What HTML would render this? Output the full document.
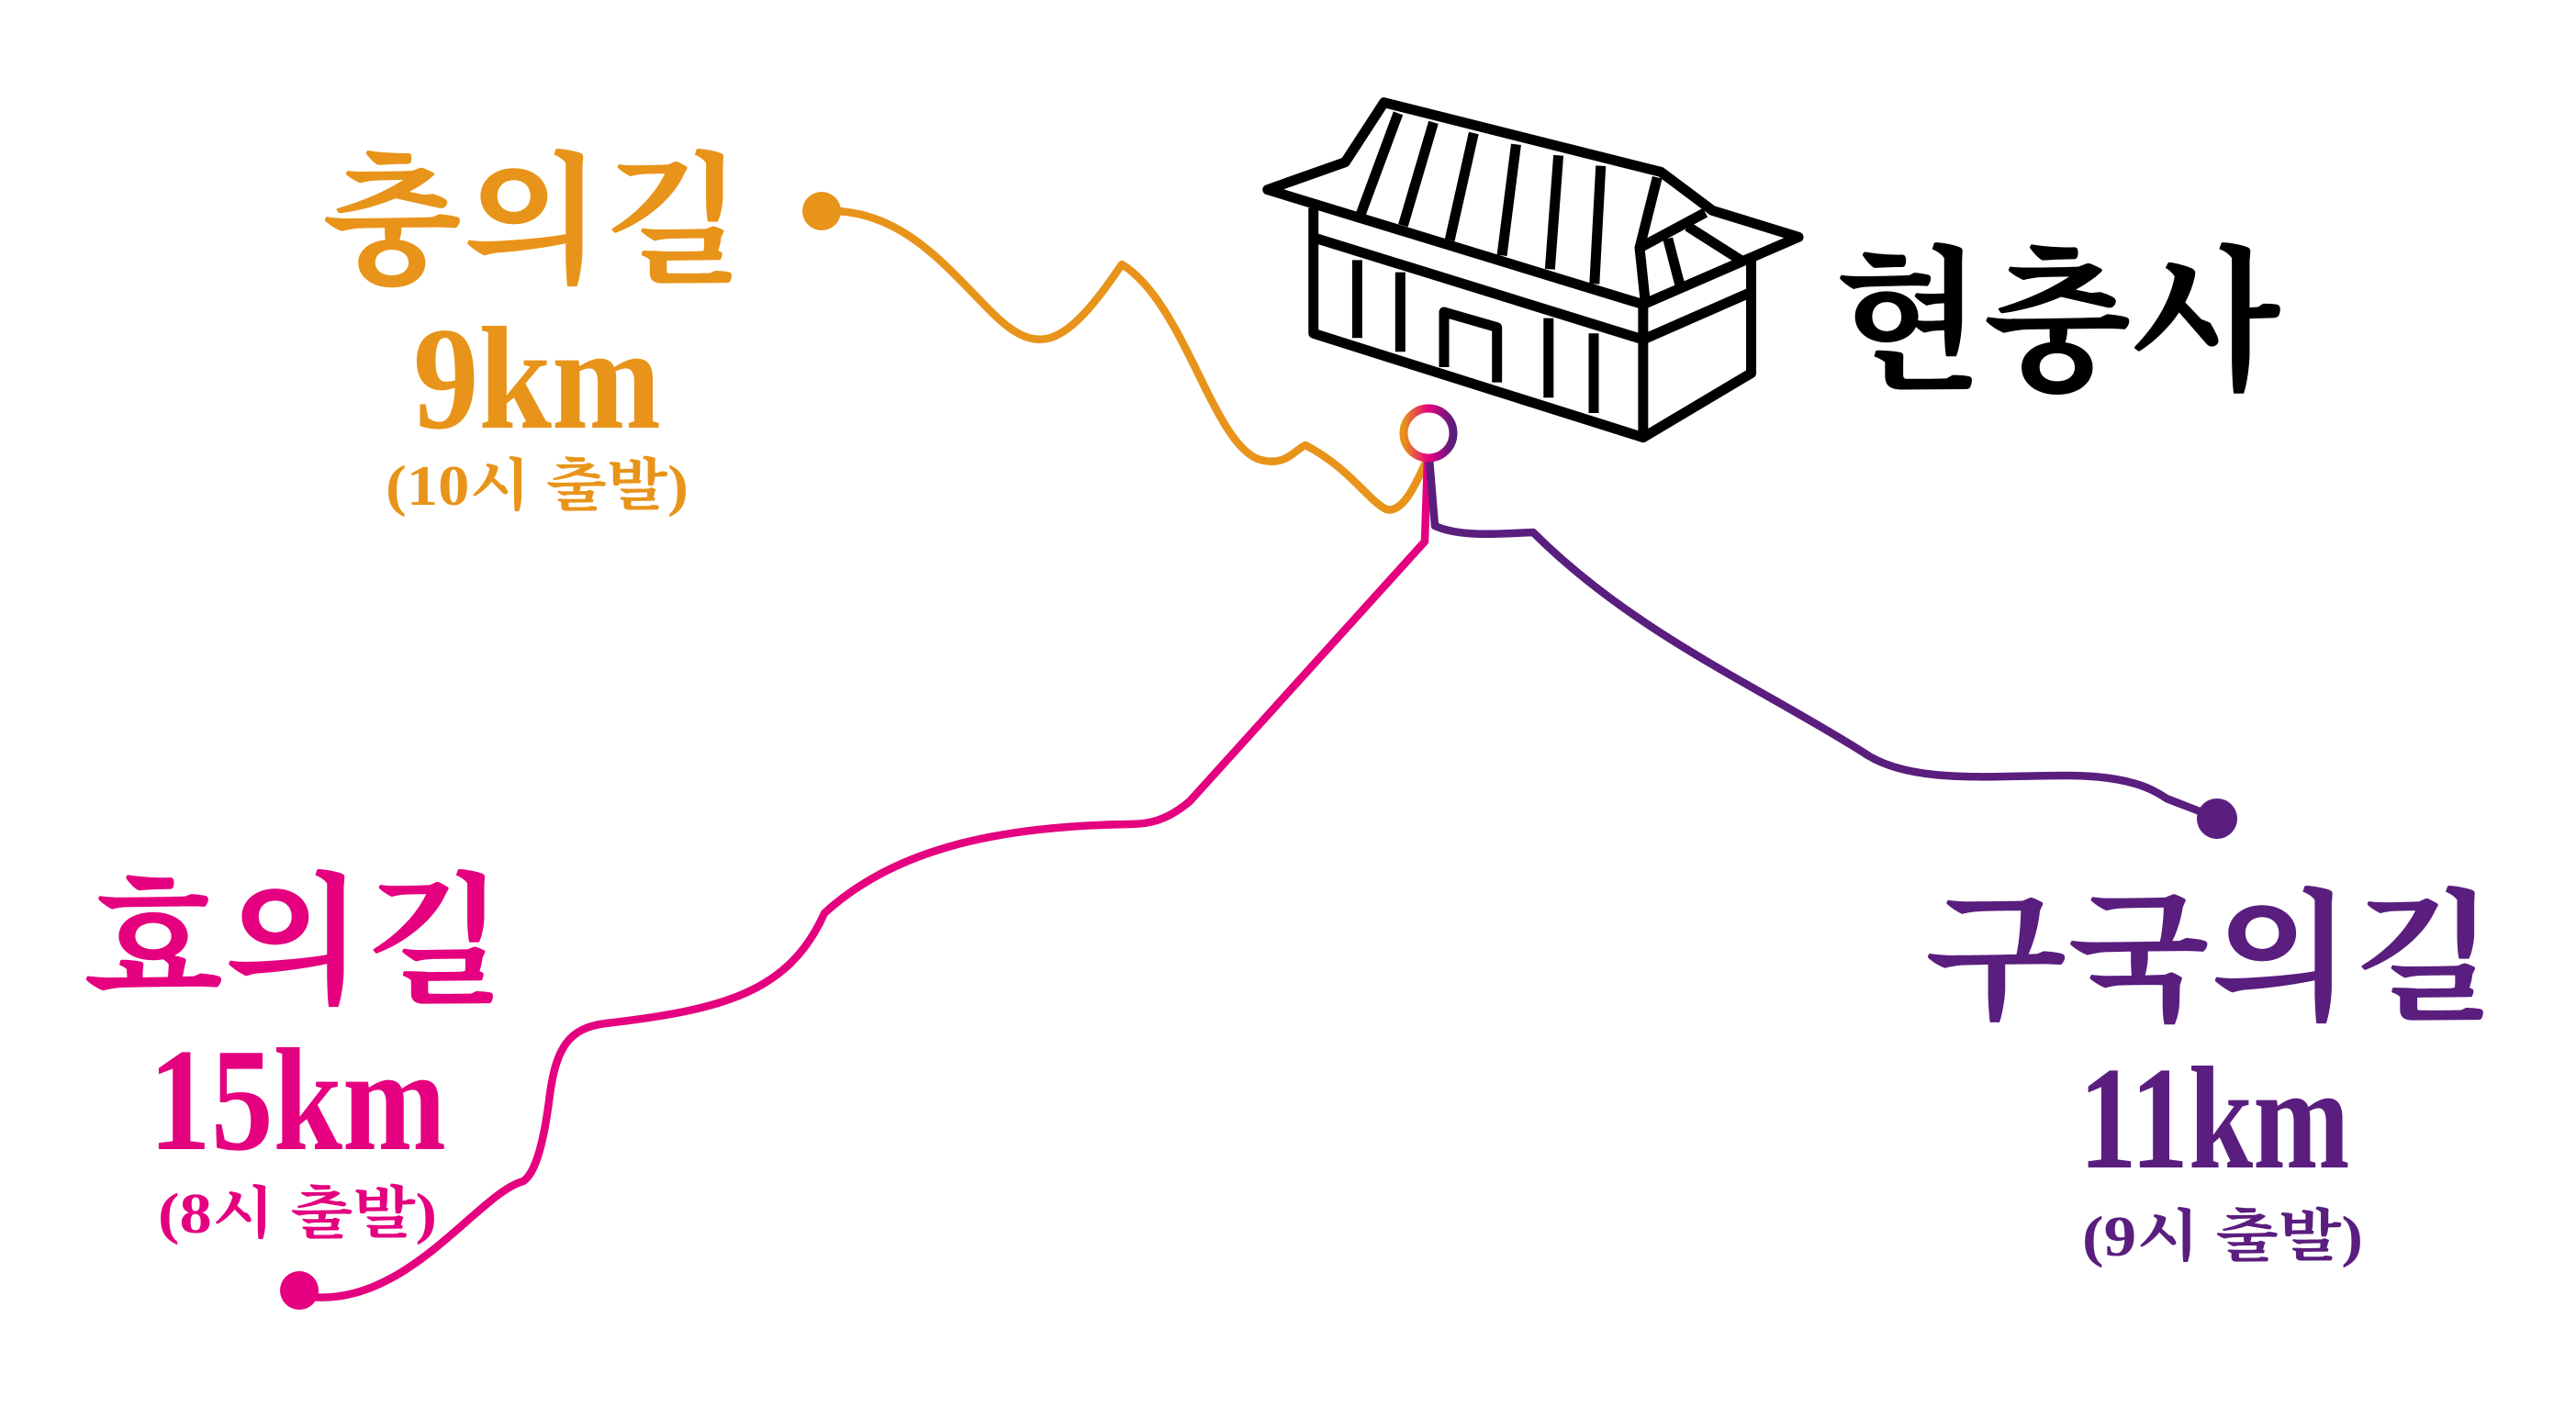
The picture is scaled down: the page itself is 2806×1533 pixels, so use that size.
<!DOCTYPE html>
<html><head><meta charset="utf-8"><style>
html,body{margin:0;padding:0;background:#fff;width:2806px;height:1533px;overflow:hidden}
svg{display:block}
text{font-family:"Liberation Serif","Noto Serif CJK SC",serif;font-weight:bold}
</style></head><body>
<svg width="2806" height="1533" viewBox="0 0 2806 1533" xmlns="http://www.w3.org/2000/svg">
<defs>
<linearGradient id="g" x1="0" x2="1" y1="0" y2="0">
<stop offset="0" stop-color="#E8941A"/><stop offset="0.5" stop-color="#E4007F"/><stop offset="1" stop-color="#5A1E7E"/>
</linearGradient>
</defs>
<!-- house -->
<g transform="translate(1300,80) scale(0.769,0.3333)" fill="none" stroke="#000" stroke-linejoin="round">
<path vector-effect="non-scaling-stroke" stroke-width="11" d="M637,755 L105,380 L215,290 L270,95 L662,322 L735,448 L857,535 L637,755"/>
<path vector-effect="non-scaling-stroke" stroke-width="11" d="M170,440 L170,850 L637,1190 L790,980 L790,610"/>
<path vector-effect="non-scaling-stroke" stroke-width="11" d="M637,755 L637,1190 M175,540 L637,870 L790,715"/>
<path vector-effect="non-scaling-stroke" stroke-width="11" d="M290,130 L237,460 M340,160 L297,497 M397,195 L363,545 M457,232 L437,595 M517,268 L505,640 M577,302 L568,688 M657,340 L632,570 L640,745 M632,570 L725,455 M700,500 L775,610 M672,540 L690,700"/>
<path vector-effect="non-scaling-stroke" stroke-width="11" d="M232,610 L232,865 M293,650 L293,910 M503,800 L503,1060 M567,850 L567,1110 M355,960 L355,780 L430,830 L430,1010"/>
</g>
<!-- routes -->
<g fill="none" stroke-width="8.5" stroke-linecap="round" stroke-linejoin="round">
<path stroke="#E8941A" d="M895,230 C980,225 1030,290 1080,340 C1130,390 1160,380 1222,288 C1290,330 1320,480 1370,500 C1400,510 1410,490 1422,485 C1470,510 1490,545 1510,555 C1530,560 1545,520 1555,500"/>
<path stroke="#E4007F" d="M1555,500 L1552,590 L1296,873 C1270,895 1250,898 1230,898 C1100,900 980,920 898,995 C860,1080 790,1100 660,1115 C620,1120 605,1140 598,1200 C590,1260 580,1280 570,1287 C520,1300 440,1430 330,1412"/>
<path stroke="#5A1E7E" d="M1557,500 L1563,573 C1590,585 1630,582 1670,580 C1780,690 1920,750 2030,820 C2080,855 2170,845 2250,845 C2320,845 2345,860 2360,870 C2380,878 2400,885 2415,892"/>
</g>
<circle cx="895" cy="230" r="21" fill="#E8941A"/>
<circle cx="326" cy="1406" r="21" fill="#E4007F"/>
<circle cx="2415" cy="892" r="22" fill="#5A1E7E"/>
<circle cx="1556" cy="472" r="27" fill="#fff" stroke="url(#g)" stroke-width="9"/>
<!-- labels -->
<g fill="#E8941A" text-anchor="middle">
<text x="580" y="295" font-size="155" textLength="459" lengthAdjust="spacingAndGlyphs">충의길</text>
<text x="585" y="466" font-size="160" textLength="270" lengthAdjust="spacingAndGlyphs">9km</text>
<text x="585" y="550" font-size="62" textLength="330" lengthAdjust="spacingAndGlyphs">(10시 출발)</text>
</g>
<g fill="#E4007F" text-anchor="middle">
<text x="320" y="1080" font-size="155" textLength="459" lengthAdjust="spacingAndGlyphs">효의길</text>
<text x="324" y="1252" font-size="160" textLength="324" lengthAdjust="spacingAndGlyphs">15km</text>
<text x="324" y="1343" font-size="62" textLength="304" lengthAdjust="spacingAndGlyphs">(8시 출발)</text>
</g>
<g fill="#5A1E7E" text-anchor="middle">
<text x="2407" y="1098" font-size="155" textLength="621" lengthAdjust="spacingAndGlyphs">구국의길</text>
<text x="2412" y="1272" font-size="160" textLength="295" lengthAdjust="spacingAndGlyphs">11km</text>
<text x="2421" y="1368" font-size="62" textLength="306" lengthAdjust="spacingAndGlyphs">(9시 출발)</text>
</g>
<text x="2241" y="410" font-size="170" fill="#000" text-anchor="middle" textLength="486" lengthAdjust="spacingAndGlyphs">현충사</text>
</svg>
</body></html>
